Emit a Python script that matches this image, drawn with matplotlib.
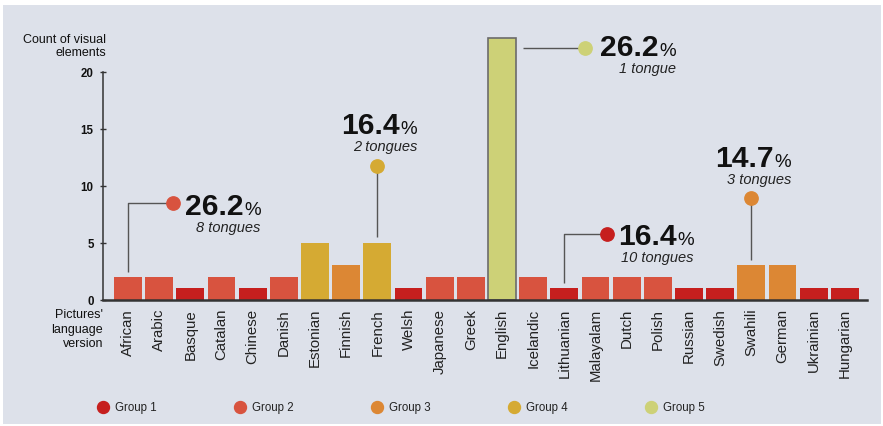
import numpy as np
import matplotlib
matplotlib.use('Agg')
import matplotlib.pyplot as plt
from matplotlib.patches import Rectangle
from matplotlib.lines import Line2D
from matplotlib.transforms import IdentityTransform

plt.rcParams['font.family'] = ['Liberation Sans', 'DejaVu Sans']

languages = ['African', 'Arabic', 'Basque', 'Catalan', 'Chinese', 'Danish', 'Estonian',
             'Finnish', 'French', 'Welsh', 'Japanese', 'Greek', 'English', 'Icelandic',
             'Lithuanian', 'Malayalam', 'Dutch', 'Polish', 'Russian', 'Swedish', 'Swahili',
             'German', 'Ukrainian', 'Hungarian']
counts = [2, 2, 1, 2, 1, 2, 5, 3, 5, 1, 2, 2, 23, 2, 1, 2, 2, 2, 1, 1, 3, 3, 1, 1]
groups = [2, 2, 1, 2, 1, 2, 4, 3, 4, 1, 2, 2, 5, 2, 1, 2, 2, 2, 1, 1, 3, 3, 1, 1]

group_names = ['Group 1', 'Group 2', 'Group 3', 'Group 4', 'Group 5']
group_colors = ['#c61f1e', '#d8533f', '#dc8734', '#d5aa33', '#cdd177']

callout_groups = [2, 4, 5, 1, 3]
callout_bars = ['African', 'French', 'English', 'Lithuanian', 'Swahili']
callout_shares = ['26.2', '16.4', '26.2', '16.4', '14.7']
callout_tongues = ['8 tongues', '2 tongues', '1 tongue', '10 tongues', '3 tongues']

# where each callout dot sits (data units) and where its text goes (pixels)
callout_layout = [
    dict(dot=(1.43, 8.45), kind='elbow', dx=12, dy=-11),
    dict(dot=(None, 11.76), kind='stem', dx=None, dy=33),
    dict(dot=(14.67, 22.07), kind='flat', dx=15, dy=-7),
    dict(dot=(15.36, 5.76), kind='elbow', dx=11, dy=-10),
    dict(dot=(None, 8.92), kind='stem', dx=None, dy=32),
]

W, H = 883, 427
fig = plt.figure(figsize=(W / 100, H / 100), dpi=100)
fig.patch.set_facecolor('white')
fig.add_artist(Rectangle((3 / W, 2 / H), 878 / W, 419 / H, transform=fig.transFigure,
                         facecolor='#dde1ea', edgecolor='none', zorder=-10))

unit = 11.38
ax = fig.add_axes([102.7 / W, (H - 300.5) / H, 764 / W, 24 * unit / H])
ax.set_facecolor('none')

x = np.arange(len(languages))
bars = ax.bar(x, counts, width=0.89, color=[group_colors[g - 1] for g in groups], zorder=2)
eng = bars[languages.index('English')]
eng.set_edgecolor('#6b6b6b')
eng.set_linewidth(1.2)

ax.set_xlim(-0.81, 23.70)
ax.set_ylim(0, 24)
for s in ['top', 'right']:
    ax.spines[s].set_visible(False)
ax.spines['left'].set_bounds(0, 20)
ax.spines['left'].set_color('#333333')
ax.spines['left'].set_linewidth(1.1)
ax.spines['bottom'].set_color('#333333')
ax.spines['bottom'].set_linewidth(1.8)

ax.set_yticks([0, 5, 10, 15, 20])
ax.tick_params(axis='y', direction='inout', length=5, width=1, color='#333333',
               labelsize=8.3, pad=4, labelcolor='#111111')
for lbl in ax.get_yticklabels():
    lbl.set_fontweight('bold')
ax.set_xticks(x)
ax.set_xticklabels(languages, rotation=90, fontsize=10.8, color='#222222')
ax.tick_params(axis='x', length=0, pad=6)

fig.text(106 / W, (H - 34) / H, 'Count of visual\nelements', ha='right', va='top',
         fontsize=9, linespacing=1.12, color='#111111')
fig.text(103 / W, (H - 309) / H, "Pictures'\nlanguage\nversion", ha='right', va='top',
         fontsize=9, linespacing=1.3, color='#111111')

# legend row
for i, (name, col) in enumerate(zip(group_names, group_colors)):
    lx = 102.7 + i * 137
    fig.add_artist(Line2D([lx / W], [(H - 408) / H], transform=fig.transFigure,
                          marker='o', markersize=8.6, color=col, linestyle='none'))
    fig.text((lx + 12) / W, (H - 408) / H, name, ha='left', va='center',
             fontsize=8.3, color='#222222')

# callouts
fig.canvas.draw()
renderer = fig.canvas.get_renderer()
line_kw = dict(color='#555555', linewidth=1.0, zorder=3, solid_capstyle='butt')
for g, bar_name, share, tongues, lay in zip(callout_groups, callout_bars, callout_shares,
                                             callout_tongues, callout_layout):
    bi = languages.index(bar_name)
    col = group_colors[g - 1]
    dx_, dy_ = lay['dot']
    if dx_ is None:
        dx_ = bi
    top = counts[bi] + 0.45
    if lay['kind'] == 'elbow':
        ax.plot([bi, bi, dx_], [top, dy_, dy_], **line_kw)
    elif lay['kind'] == 'stem':
        ax.plot([bi, bi], [top, dy_], **line_kw)
    else:
        ax.plot([bi + 0.66, dx_], [dy_, dy_], **line_kw)
    ax.plot([dx_], [dy_], marker='o', markersize=9.6, color=col, zorder=4, clip_on=False)

    px, py = ax.transData.transform((dx_, dy_))
    num = fig.text(0, 0, share, transform=IdentityTransform(), fontsize=21.6,
                   fontweight='bold', ha='left', va='baseline', color='#111111')
    pct = fig.text(0, 0, '%', transform=IdentityTransform(), fontsize=13.5,
                   ha='left', va='baseline', color='#111111')
    wn = num.get_window_extent(renderer).width
    wp = pct.get_window_extent(renderer).width
    if lay['dx'] is None:
        x0 = px + 2 - (wn + wp + 1) / 2
    else:
        x0 = px + lay['dx']
    base = py + lay['dy']
    num.set_position((x0, base))
    pct.set_position((x0 + wn + 1, base))
    fig.text(x0 + wn + 1 + wp, base - 17, tongues, transform=IdentityTransform(),
             fontsize=10.5, style='italic', ha='right', va='baseline', color='#222222')

fig.savefig('out.png', dpi=100, facecolor='white')
